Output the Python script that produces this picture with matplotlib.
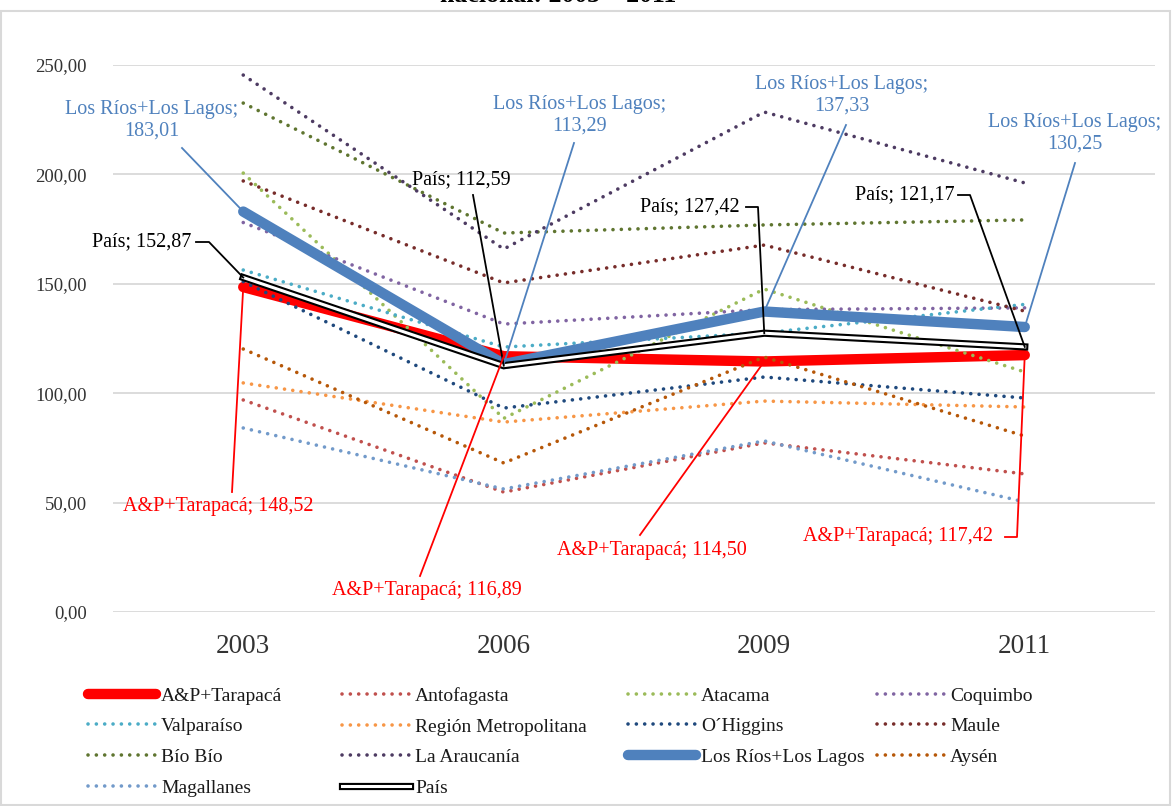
import matplotlib
matplotlib.use("Agg")
import matplotlib.pyplot as plt
from matplotlib.lines import Line2D
from matplotlib.patches import Rectangle

plt.rcParams['font.family'] = ['Liberation Serif', 'DejaVu Serif']

years = ["2003", "2006", "2009", "2011"]

ap_tarapaca = [148.52, 116.89, 114.50, 117.42]
antofagasta = [96.9, 54.8, 77.3, 63.1]
atacama = [200.6, 88.5, 147.6, 109.7]
coquimbo = [178.0, 131.6, 138.2, 139.0]
valparaiso = [156.3, 121.1, 127.5, 140.6]
region_metropolitana = [104.7, 86.8, 96.4, 93.7]
ohiggins = [151.0, 93.2, 107.4, 97.8]
maule = [197.0, 150.4, 167.7, 137.5]
bio_bio = [232.6, 173.2, 176.9, 179.2]
araucania = [245.4, 165.9, 228.5, 196.1]
los_rios_lagos = [183.01, 113.29, 137.33, 130.25]
aysen = [120.2, 68.1, 116.5, 80.4]
magallanes = [84.1, 56.2, 78.2, 50.3]
pais = [152.87, 112.59, 127.42, 121.17]

series = [
    ("A&P+Tarapacá", ap_tarapaca, "#FF0000", "thick"),
    ("Antofagasta", antofagasta, "#C0504D", "dot"),
    ("Atacama", atacama, "#9BBB59", "dot"),
    ("Coquimbo", coquimbo, "#8064A2", "dot"),
    ("Valparaíso", valparaiso, "#4BACC6", "dot"),
    ("Región Metropolitana", region_metropolitana, "#F79646", "dot"),
    ("O\u00b4Higgins", ohiggins, "#1F497D", "dot"),
    ("Maule", maule, "#772C2A", "dot"),
    ("Bío Bío", bio_bio, "#5F7530", "dot"),
    ("La Araucanía", araucania, "#4D3B62", "dot"),
    ("Los Ríos+Los Lagos", los_rios_lagos, "#4F81BD", "thick"),
    ("Aysén", aysen, "#B65708", "dot"),
    ("Magallanes", magallanes, "#729ACA", "dot"),
    ("País", pais, "#000000", "double"),
]

W, H = 1172, 806
fig = plt.figure(figsize=(W / 100, H / 100), dpi=100)
AX_L, AX_R, AX_T, AX_B = 113, 1155, 65, 612
ax = fig.add_axes([AX_L / W, 1 - AX_B / H, (AX_R - AX_L) / W, (AX_B - AX_T) / H])
XMIN, XMAX, YMIN, YMAX = -0.5, 3.5, 0, 250
ax.set_xlim(XMIN, XMAX)
ax.set_ylim(YMIN, YMAX)

def px2d(px, py):
    return (XMIN + (px - AX_L) / (AX_R - AX_L) * (XMAX - XMIN),
            YMIN + (AX_B - py) / (AX_B - AX_T) * (YMAX - YMIN))

x = list(range(len(years)))
handles = {}
for i, (name, vals, col, kind) in enumerate(series):
    z = 3 + i
    if kind == "dot":
        ln, = ax.plot(x, vals, color=col, lw=2.6, linestyle=(0, (0.01, 2.3)),
                      dash_capstyle='round', zorder=z)
        handles[name] = ln
    elif kind == "thick":
        ln, = ax.plot(x, vals, color=col, lw=7.5, solid_capstyle='round',
                      solid_joinstyle='round', zorder=z)
        handles[name] = ln
    else:
        ax.plot(x, vals, color="black", lw=5.2, solid_joinstyle='miter', zorder=z)
        ax.plot(x, vals, color="white", lw=2.2, solid_joinstyle='miter', zorder=z + 0.5)
        h1 = Line2D([], [], color="black", lw=5.2)
        h2 = Line2D([], [], color="white", lw=2.2)
        handles[name] = (h1, h2)

# axes styling
yt = [0, 50, 100, 150, 200, 250]
ax.set_yticks(yt)
ax.set_yticklabels([f"{v:.2f}".replace(".", ",") for v in yt], fontsize=13.5, color="#333333")
ax.set_xticks(x)
ax.set_xticklabels(years, fontsize=19.5, color="#333333")
ax.tick_params(axis='both', length=0)
ax.tick_params(axis='y', pad=19)
ax.tick_params(axis='x', pad=16)
ax.grid(axis='y', color="#D9D9D9", lw=1.3, zorder=0)
ax.set_axisbelow(True)
for s in ax.spines.values():
    s.set_visible(False)

# data labels with leader lines
labels = [
    (los_rios_lagos, 0, "Los Ríos+Los Lagos;\n183,01", (152, 120), [(182, 148)], "#4F81BD"),
    (los_rios_lagos, 1, "Los Ríos+Los Lagos;\n113,29", (580, 115), [(574, 143)], "#4F81BD"),
    (los_rios_lagos, 2, "Los Ríos+Los Lagos;\n137,33", (842, 95), [(846, 125)], "#4F81BD"),
    (los_rios_lagos, 3, "Los Ríos+Los Lagos;\n130,25", (1075, 133), [(1075, 163)], "#4F81BD"),
    (pais, 0, "País; 152,87", (142, 242), [(196, 242), (209, 242)], "#000000"),
    (pais, 1, "País; 112,59", (461, 180), [(473, 195)], "#000000"),
    (pais, 2, "País; 127,42", (690, 207), [(746, 207), (758, 207)], "#000000"),
    (pais, 3, "País; 121,17", (905, 195), [(958, 195), (970, 195)], "#000000"),
    (ap_tarapaca, 0, "A&P+Tarapacá; 148,52", (218, 507), [(232, 492)], "#FF0000"),
    (ap_tarapaca, 1, "A&P+Tarapacá; 116,89", (427, 590), [(420, 576)], "#FF0000"),
    (ap_tarapaca, 2, "A&P+Tarapacá; 114,50", (652, 551), [(640, 535)], "#FF0000"),
    (ap_tarapaca, 3, "A&P+Tarapacá; 117,42", (898, 537), [(1005, 537), (1017, 537)], "#FF0000"),
]
for vals, idx, txt, tpos, path, col in labels:
    tx, ty = px2d(*tpos)
    ax.text(tx, ty, txt, color=col, fontsize=14.5, ha='center', va='center',
            linespacing=1.15, zorder=30)
    pts = [px2d(*p) for p in path] + [(x[idx], vals[idx])]
    ax.plot([p[0] for p in pts], [p[1] for p in pts], color=col, lw=1.3,
            zorder=29, clip_on=False)

# legend (4 columns, placed individually)
cols = [
    (["A&P+Tarapacá", "Valparaíso", "Bío Bío", "Magallanes"], 88),
    (["Antofagasta", "Región Metropolitana", "La Araucanía", "País"], 342),
    (["Atacama", "O\u00b4Higgins", "Los Ríos+Los Lagos"], 628),
    (["Coquimbo", "Maule", "Aysén"], 877),
]
for names, lx in cols:
    leg = fig.legend([handles[n] for n in names], names, loc='upper left',
                     bbox_to_anchor=(lx / W, 1 - 687 / H), ncol=1, frameon=False,
                     fontsize=14, handlelength=3.5, handletextpad=0.25,
                     labelspacing=0.67, borderaxespad=0, borderpad=0)
    for t in leg.get_texts():
        t.set_color("#1a1a1a")

# chart border and clipped title
fig.patches.append(Rectangle((1 / W, 1 / H), (W - 3) / W, (H - 12) / H,
                             transform=fig.transFigure, fill=False,
                             edgecolor="#D9D9D9", lw=1.5))
fig.text(558 / W, 1 - 1.5 / H, "nacional: 2003 – 2011", ha='center', va='baseline',
         fontsize=18.5, fontweight='bold')

fig.savefig("out.png", dpi=100)
